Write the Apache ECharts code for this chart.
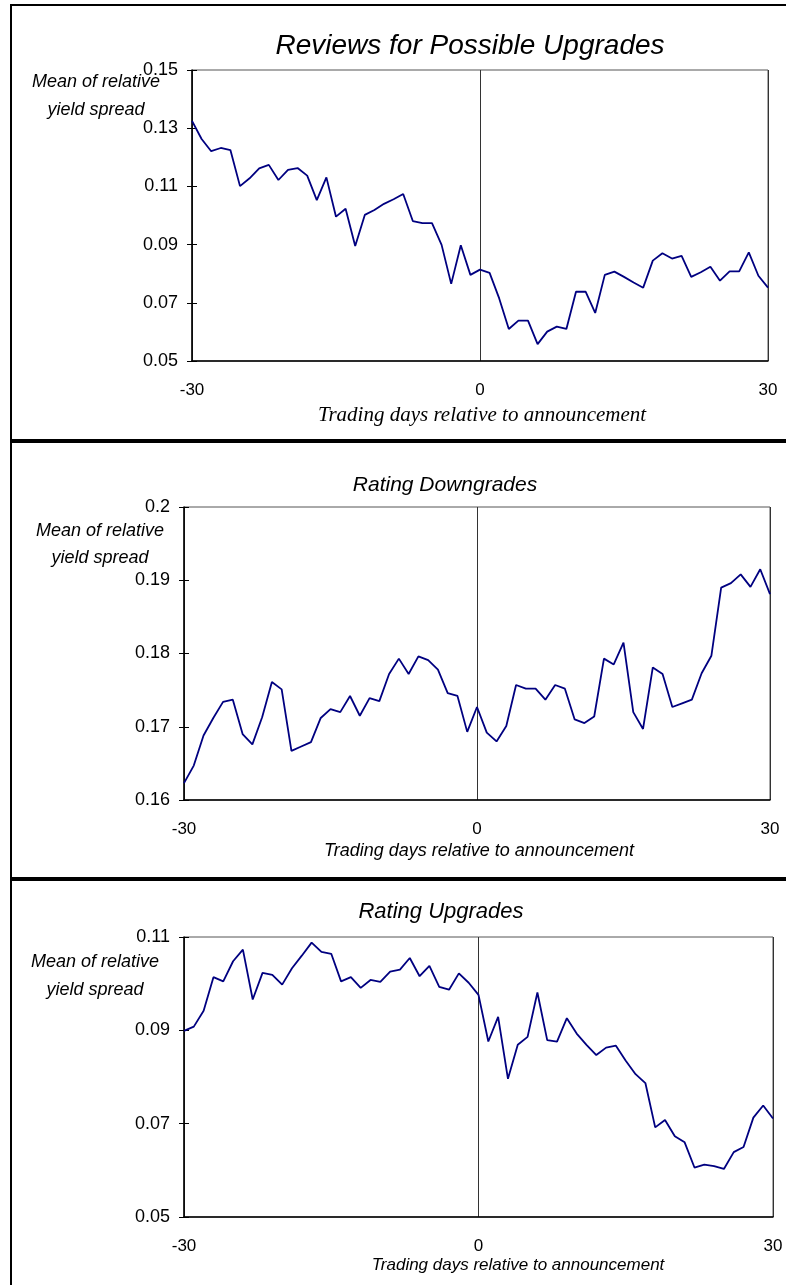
<!DOCTYPE html>
<html>
<head>
<meta charset="utf-8">
<script src="https://cdn.jsdelivr.net/npm/echarts@6/dist/echarts.min.js"></script>
<style>
    html, body { margin: 0; padding: 0; background: #fff; }
    #chart { width: 786px; height: 1285px; }
</style>
</head>
<body>
<div id="chart"></div>
<script>
    // trading days relative to announcement
    const days = [-30, -29, -28, -27, -26, -25, -24, -23, -22, -21, -20, -19, -18, -17, -16, -15, -14, -13, -12, -11,
        -10, -9, -8, -7, -6, -5, -4, -3, -2, -1, 0, 1, 2, 3, 4, 5, 6, 7, 8, 9, 10, 11, 12, 13, 14, 15, 16, 17, 18, 19,
        20, 21, 22, 23, 24, 25, 26, 27, 28, 29, 30]

    const titles = ['Reviews for Possible Upgrades', 'Rating Downgrades', 'Rating Upgrades']

    // mean of relative yield spread
    const reviewUpgrades = [0.1325, 0.1263, 0.1221, 0.1232, 0.1225, 0.1101, 0.1128, 0.1162, 0.1174, 0.1122,
        0.1157, 0.1163, 0.1137, 0.1053, 0.1131, 0.0996, 0.1023, 0.0895, 0.1002, 0.1019,
        0.1040, 0.1056, 0.1074, 0.0981, 0.0974, 0.0974, 0.0899, 0.0765, 0.0898, 0.0796,
        0.0814, 0.0803, 0.0715, 0.0610, 0.0639, 0.0639, 0.0558, 0.0601, 0.0618, 0.0610,
        0.0738, 0.0738, 0.0665, 0.0796, 0.0807, 0.0789, 0.0770, 0.0752, 0.0845, 0.0870,
        0.0852, 0.0861, 0.0789, 0.0805, 0.0824, 0.0776, 0.0808, 0.0808, 0.0873, 0.0793, 0.0752]

    const downgrades = [0.1623, 0.1647, 0.1688, 0.1712, 0.1734, 0.1737, 0.1690, 0.1676, 0.1713, 0.1761,
        0.1751, 0.1667, 0.1673, 0.1679, 0.1712, 0.1724, 0.1720, 0.1742, 0.1715, 0.1739,
        0.1735, 0.1772, 0.1793, 0.1772, 0.1796, 0.1791, 0.1778, 0.1746, 0.1742, 0.1693,
        0.1727, 0.1692, 0.1680, 0.1701, 0.1757, 0.1752, 0.1752, 0.1737, 0.1757, 0.1752,
        0.1710, 0.1705, 0.1714, 0.1793, 0.1785, 0.1815, 0.1720, 0.1697, 0.1781, 0.1772,
        0.1727, 0.1732, 0.1737, 0.1773, 0.1797, 0.1890, 0.1896, 0.1908, 0.1891, 0.1915, 0.1881]

    const upgrades = [0.0899, 0.0908, 0.0942, 0.1014, 0.1005, 0.1048, 0.1073, 0.0966, 0.1023, 0.1019,
        0.0998, 0.1033, 0.1060, 0.1088, 0.1068, 0.1064, 0.1005, 0.1014, 0.0991, 0.1008,
        0.1004, 0.1026, 0.1030, 0.1055, 0.1016, 0.1038, 0.0993, 0.0987, 0.1022, 0.1002,
        0.0976, 0.0876, 0.0929, 0.0796, 0.0869, 0.0886, 0.0981, 0.0879, 0.0876, 0.0926,
        0.0893, 0.0869, 0.0847, 0.0863, 0.0867, 0.0835, 0.0806, 0.0787, 0.0692, 0.0708,
        0.0673, 0.0660, 0.0606, 0.0612, 0.0609, 0.0603, 0.0639, 0.0650, 0.0713, 0.0739, 0.0711]

    // y axis ranges: [min, max, interval]
    const yRanges = [[0.05, 0.15, 0.02], [0.16, 0.2, 0.01], [0.05, 0.11, 0.02]]

    const sans = '"Liberation Sans", Arial, sans-serif'
    const serif = '"Liberation Serif", "Times New Roman", serif'

    const grids = [
        { left: 192, top: 70, width: 576, height: 291 },
        { left: 184, top: 507, width: 586, height: 293 },
        { left: 184, top: 937, width: 589, height: 280 }
    ]

    let chart = echarts.init(document.getElementById('chart'), null, { renderer: 'canvas' })

    function txt(text, x, y, font) {
        return {
            type: 'text', x: x, y: y,
            style: {
                text: text, font: font, fill: '#000',
                textAlign: 'center', textVerticalAlign: 'middle',
                align: 'center', verticalAlign: 'middle'
            }
        }
    }

    let xAxis = []
    let yAxis = []
    let series = []
    const seriesData = [reviewUpgrades, downgrades, upgrades]

    grids.forEach(function (g, i) {
        xAxis.push({
            type: 'category', gridIndex: i, data: days, boundaryGap: false,
            axisLine: { lineStyle: { color: '#000', width: 1.5 } },
            axisTick: { show: false },
            axisLabel: { interval: 29, margin: 21, color: '#000', fontSize: 17, fontFamily: sans },
            splitLine: { show: true, interval: 29, lineStyle: { color: '#333', width: 1 } }
        })
        // main axis with labels and outer ticks
        yAxis.push({
            type: 'value', gridIndex: i, position: 'left',
            min: yRanges[i][0], max: yRanges[i][1], interval: yRanges[i][2],
            axisLine: { show: true, lineStyle: { color: '#000', width: 1.5 } },
            axisTick: { show: true, length: 5, lineStyle: { color: '#000' } },
            axisLabel: { margin: 14, color: '#000', fontSize: 18, fontFamily: sans },
            splitLine: { show: false }
        })
        // same scale, inner half of the crossing ticks
        yAxis.push({
            type: 'value', gridIndex: i, position: 'left',
            min: yRanges[i][0], max: yRanges[i][1], interval: yRanges[i][2],
            axisLine: { show: false },
            axisTick: { show: true, inside: true, length: 5, lineStyle: { color: '#000' } },
            axisLabel: { show: false },
            splitLine: { show: false }
        })
        series.push({
            type: 'line', xAxisIndex: i, yAxisIndex: i * 2,
            data: seriesData[i], showSymbol: false, silent: true,
            lineStyle: { color: '#000080', width: 1.8 }
        })
    })

    let option = {
        backgroundColor: '#fff',
        animation: false,
        grid: grids.map(function (g) {
            return Object.assign({ show: true, borderColor: '#555', borderWidth: 1, containLabel: false }, g)
        }),
        xAxis: xAxis,
        yAxis: yAxis,
        series: series,
        graphic: [
            { type: 'rect', shape: { x: 11, y: 5, width: 800, height: 1300 }, style: { fill: 'none', stroke: '#000', lineWidth: 2 } },
            { type: 'line', shape: { x1: 11, y1: 441, x2: 786, y2: 441 }, style: { stroke: '#000', lineWidth: 4 } },
            { type: 'line', shape: { x1: 11, y1: 879, x2: 786, y2: 879 }, style: { stroke: '#000', lineWidth: 4 } },

            txt(titles[0], 470, 46, 'italic 28px ' + sans),
            txt('Mean of relative', 96, 82, 'italic 18px ' + sans),
            txt('yield spread', 96, 110, 'italic 18px ' + sans),
            txt('Trading days relative to announcement', 482, 415, 'italic 21px ' + serif),

            txt(titles[1], 445, 485, 'italic 21px ' + sans),
            txt('Mean of relative', 100, 531, 'italic 18px ' + sans),
            txt('yield spread', 100, 558, 'italic 18px ' + sans),
            txt('Trading days relative to announcement', 479, 851, 'italic 18px ' + sans),

            txt(titles[2], 441, 912, 'italic 22px ' + sans),
            txt('Mean of relative', 95, 962, 'italic 18px ' + sans),
            txt('yield spread', 95, 990, 'italic 18px ' + sans),
            txt('Trading days relative to announcement', 518, 1265, 'italic 17px ' + sans)
        ]
    }

    chart.setOption(option)
</script>
</body>
</html>
